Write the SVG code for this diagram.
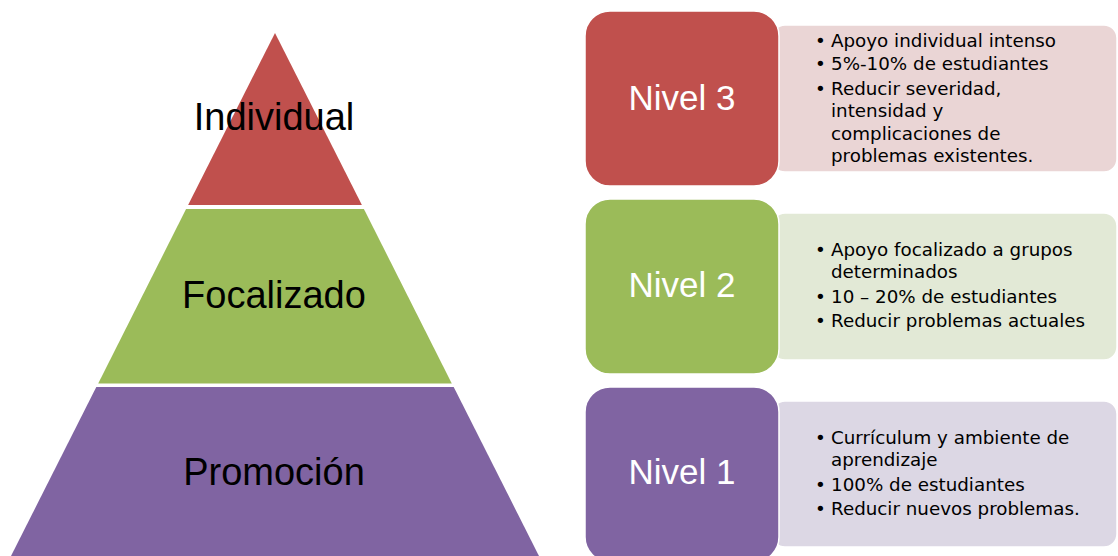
<svg xmlns="http://www.w3.org/2000/svg" width="1118" height="556" viewBox="0 0 1118 556">
<style>
.lbl{font-family:"Liberation Sans",Arial,sans-serif;font-size:38px;fill:#000;text-anchor:middle}
.niv{font-family:"Liberation Sans",Arial,sans-serif;font-size:35px;fill:#fff;text-anchor:middle}
.bt{font-family:"DejaVu Sans",Verdana,sans-serif;font-size:18.3px;fill:#000}
.box{stroke:#fff;stroke-width:1.5}
.det{stroke:#fff;stroke-width:1.5}
</style>
<rect width="1118" height="556" fill="#fff"/>
<g id="pyr-individual">
<polygon points="275,33 361.9,205 188.1,205" fill="#C0504D"/>
<text class="lbl" x="274" y="129.5">Individual</text>
</g>
<g id="pyr-focalizado">
<polygon points="186.1,209 363.9,209 451.8,383.5 98.2,383.5" fill="#9BBB59"/>
<text class="lbl" x="274" y="308">Focalizado</text>
</g>
<g id="pyr-promocion">
<polygon points="96.3,387 453.7,387 541,560 9,560" fill="#8064A2"/>
<text class="lbl" x="274" y="485">Promoción</text>
</g>
<g id="connectors"></g>
<g id="det3">
<rect class="det" x="772" y="25" width="345" height="147" rx="13" fill="#EAD5D5"/>
<text class="bt" x="815" y="47">•</text><text class="bt" x="831" y="47">Apoyo individual intenso</text>
<text class="bt" x="815" y="70">•</text><text class="bt" x="831" y="70">5%-10% de estudiantes</text>
<text class="bt" x="815" y="94.5">•</text><text class="bt" x="831" y="94.5">Reducir severidad,</text>
<text class="bt" x="831" y="117">intensidad y</text>
<text class="bt" x="831" y="139.5">complicaciones de</text>
<text class="bt" x="831" y="162">problemas existentes.</text>
</g>
<g id="nivel3">
<rect class="box" x="585" y="11" width="194" height="175" rx="25" fill="#C0504D"/>
<text class="niv" x="682" y="109.5">Nivel 3</text>
</g>
<g id="det2">
<rect class="det" x="772" y="213" width="345" height="147" rx="13" fill="#E2E9D6"/>
<text class="bt" x="815" y="256">•</text><text class="bt" x="831" y="256">Apoyo focalizado a grupos</text>
<text class="bt" x="831" y="278.3">determinados</text>
<text class="bt" x="815" y="303.3">•</text><text class="bt" x="831" y="303.3">10 – 20% de estudiantes</text>
<text class="bt" x="815" y="327.3">•</text><text class="bt" x="831" y="327.3">Reducir problemas actuales</text>
</g>
<g id="nivel2">
<rect class="box" x="585" y="199" width="194" height="175" rx="25" fill="#9BBB59"/>
<text class="niv" x="682" y="297">Nivel 2</text>
</g>
<g id="det1">
<rect class="det" x="772" y="401" width="345" height="146" rx="13" fill="#DCD7E4"/>
<text class="bt" x="815" y="444">•</text><text class="bt" x="831" y="444">Currículum y ambiente de</text>
<text class="bt" x="831" y="466.3">aprendizaje</text>
<text class="bt" x="815" y="491.3">•</text><text class="bt" x="831" y="491.3">100% de estudiantes</text>
<text class="bt" x="815" y="515.3">•</text><text class="bt" x="831" y="515.3">Reducir nuevos problemas.</text>
</g>
<g id="nivel1">
<rect class="box" x="585" y="387" width="194" height="175" rx="25" fill="#8064A2"/>
<text class="niv" x="682" y="483.5">Nivel 1</text>
</g>
</svg>
